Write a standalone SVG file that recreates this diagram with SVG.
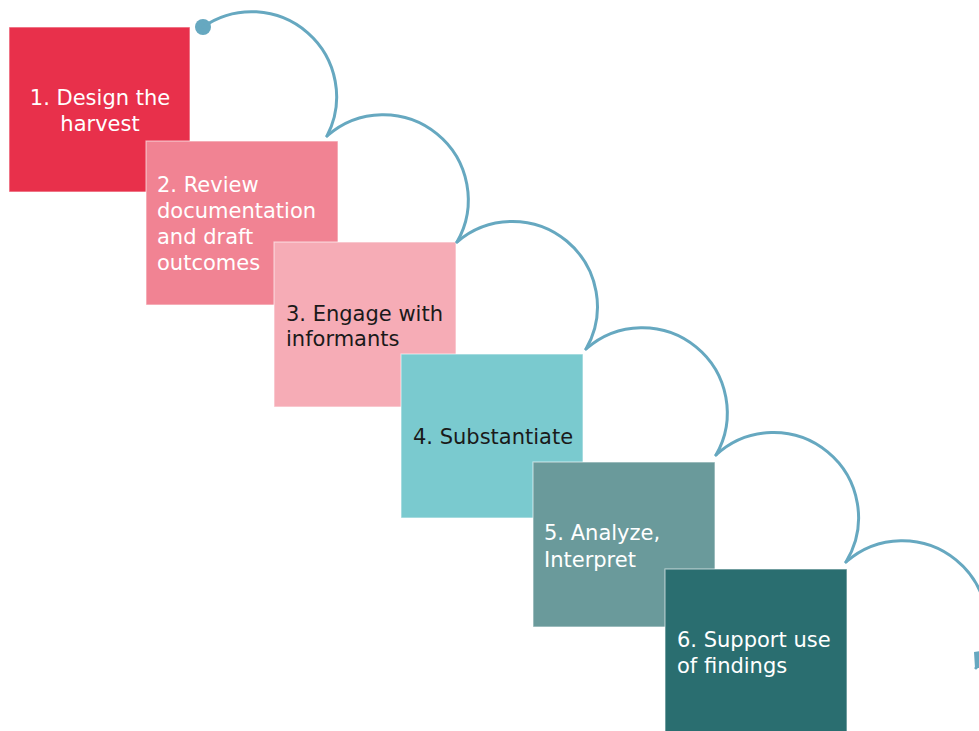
<svg xmlns="http://www.w3.org/2000/svg" width="979" height="731" viewBox="0 0 979 731">
  <style>
    .box { stroke: #ffffff; stroke-opacity: 0.55; stroke-width: 1.2; }
    .t { font-family: "DejaVu Sans", "Noto Sans", sans-serif; font-size: 21px; }
    .w { fill: #ffffff; }
    .d { fill: #1a1a1a; }
    .arc { fill: none; stroke: #66a8c0; stroke-width: 3; stroke-linecap: round; }
  </style>
  <rect x="0" y="0" width="979" height="731" fill="#ffffff"/>
  <g id="node1">
    <rect class="box" x="9" y="27" width="181" height="165" fill="#e8304b"/>
    <text class="t w" text-anchor="middle"><tspan x="100" y="105">1. Design the</tspan><tspan x="100" y="131">harvest</tspan></text>
  </g>
  <g id="node2">
    <rect class="box" x="146" y="141" width="192" height="164" fill="#f18393"/>
    <text class="t w"><tspan x="157" y="192">2. Review</tspan><tspan x="157" y="218">documentation</tspan><tspan x="157" y="244">and draft</tspan><tspan x="157" y="270">outcomes</tspan></text>
  </g>
  <g id="node3">
    <rect class="box" x="274" y="242" width="182" height="165" fill="#f6acb6"/>
    <text class="t d"><tspan x="286" y="321">3. Engage with</tspan><tspan x="286" y="346">informants</tspan></text>
  </g>
  <g id="node4">
    <rect class="box" x="401" y="354" width="182" height="164" fill="#7acacf"/>
    <text class="t d"><tspan x="413" y="444">4. Substantiate</tspan></text>
  </g>
  <g id="node5">
    <rect class="box" x="533" y="462" width="182" height="165" fill="#6a9a9b"/>
    <text class="t w"><tspan x="544" y="540">5. Analyze,</tspan><tspan x="544" y="567">Interpret</tspan></text>
  </g>
  <g id="node6">
    <rect class="box" x="665" y="569" width="182" height="166" fill="#2a6e70"/>
    <text class="t w"><tspan x="677" y="647">6. Support use</tspan><tspan x="677" y="673">of findings</tspan></text>
  </g>
  <g id="connectors">
    <circle cx="203" cy="27" r="8" fill="#66a8c0"/>
    <path class="arc" d="M203,27 A85,85 0 0 1 327,136"/>
    <path class="arc" d="M327,136 A85,85 0 0 1 457,242"/>
    <path class="arc" d="M457,242 A85,85 0 0 1 586,349"/>
    <path class="arc" d="M586,349 A85,85 0 0 1 716,455"/>
    <path class="arc" d="M716,455 A85,85 0 0 1 846,562"/>
    <path class="arc" d="M846,562 A85,85 0 0 1 976,668"/>
    <polygon points="975,668 974,652 988,650 988,668" fill="#66a8c0"/>
  </g>
</svg>
